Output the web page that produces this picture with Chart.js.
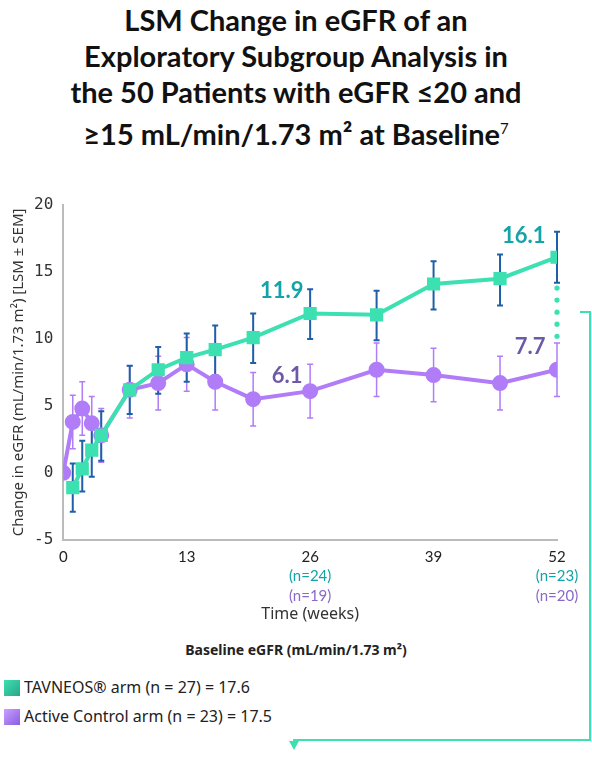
<!DOCTYPE html>
<html><head><meta charset="utf-8">
<script src="https://cdn.jsdelivr.net/npm/chart.js@4"></script>
<style>
body{margin:0;width:592px;height:761px;position:relative;background:#fff;font-family:"IBM Plex Sans","Noto Sans",sans-serif;overflow:hidden}
#title{position:absolute;top:2px;left:0;width:592px;text-align:center;font:bold 29px/36px "Lato","Noto Sans",sans-serif;color:#111}
#wrap{position:absolute;left:0;top:180px;width:592px;height:460px}
.lg{position:absolute;left:4px;font:16px "Noto Sans",sans-serif;color:#222}
.sw{display:inline-block;width:16px;height:16px;vertical-align:-3px;margin-right:4px}
</style></head><body>
<div id="title">LSM Change in eGFR of an<br>Exploratory Subgroup Analysis in<br>the 50 Patients with eGFR ≤20 and<br>≥15 mL/min/1.73 m² at Baseline<sup style="font-size:15px;font-weight:normal">7</sup></div>
<div id="wrap"><canvas id="c"></canvas></div>
<div style="position:absolute;top:640px;left:0;width:592px;text-align:center;font:bold 14px 'Noto Sans',sans-serif;color:#222;padding-left:0">Baseline eGFR (mL/min/1.73 m²)</div>
<div class="lg" style="top:676px"><span class="sw" style="background:linear-gradient(135deg,#3de0b0,#2aa58a)"></span>TAVNEOS® arm (n = 27) = 17.6</div>
<div class="lg" style="top:705px"><span class="sw" style="background:linear-gradient(135deg,#c9a0ff,#8a5ce0)"></span>Active Control arm (n = 23) = 17.5</div>
<div style="position:absolute;left:580px;top:311px;width:10px;height:2px;background:#3de0b0"></div>
<div style="position:absolute;left:589px;top:311px;width:2px;height:430px;background:#3de0b0"></div>
<div style="position:absolute;left:293px;top:739px;width:298px;height:2px;background:#3de0b0"></div>
<div style="position:absolute;left:289px;top:741px;width:0;height:0;border-left:5px solid transparent;border-right:5px solid transparent;border-top:9px solid #3de0b0"></div>
<script>
const tavWeeks=[1,2,3,4,7,10,13,16,20,26,33,39,46,52];
const tavLSM=[-1.1,0.3,1.7,2.8,6.2,7.7,8.6,9.2,10.1,11.9,11.8,14.1,14.5,16.1];
const tavLow=[-2.9,-1.4,-0.3,0.9,4.4,5.9,6.8,7.3,8.2,10.0,9.9,12.2,12.5,14.2];
const tavHigh=[0.7,2.4,3.7,4.6,8.0,9.4,10.4,11.0,11.9,13.7,13.6,15.8,16.3,18.0];
const ctlWeeks=[0,1,2,3,4,7,10,13,16,20,26,33,39,46,52];
const ctlLSM=[0,3.8,4.8,3.7,2.8,6.2,6.7,8.1,6.8,5.5,6.1,7.7,7.3,6.7,7.7];
const ctlLow=[null,1.8,2.8,1.7,0.8,4.1,4.7,6.1,4.7,3.5,4.1,5.7,5.3,4.7,5.7];
const ctlHigh=[null,5.8,6.8,5.7,4.8,8.0,8.7,10.1,8.8,7.5,8.1,9.7,9.3,8.7,9.7];
const xTicks=[0,13,26,39,52];
const yTicks=[-5,0,5,10,15,20];
const nLabels=[[26,'(n=24)','(n=19)'],[52,'(n=23)','(n=20)']];
const TEAL='#3de0b0',PURP='#b07cf7';
const plug={id:'extra',
 beforeDatasetsDraw(ch){const c=ch.ctx,x=ch.scales.x,y=ch.scales.y;
  function bars(w,lo,hi,col,wid){c.strokeStyle=col;c.lineWidth=wid;w.forEach((v,i)=>{if(lo[i]==null)return;const px=x.getPixelForValue(v),a=y.getPixelForValue(lo[i]),b=y.getPixelForValue(hi[i]);c.beginPath();c.moveTo(px,a);c.lineTo(px,b);c.moveTo(px-3,a);c.lineTo(px+3,a);c.moveTo(px-3,b);c.lineTo(px+3,b);c.stroke();});}
  c.save();bars(ctlWeeks,ctlLow,ctlHigh,PURP,1.5);bars(tavWeeks,tavLow,tavHigh,'#1f5fa8',2);
  c.fillStyle=TEAL;const px=x.getPixelForValue(52);for(let v=13.8;v>9.6;v-=0.9){c.beginPath();c.arc(px,y.getPixelForValue(v),2.6,0,7);c.fill();}
  c.restore();},
 afterDraw(ch){const c=ch.ctx,x=ch.scales.x,y=ch.scales.y;c.save();c.textAlign='right';c.textBaseline='bottom';c.font='bold 22px "Lato","Noto Sans",sans-serif';
  c.fillStyle='#14a3a8';c.fillText('11.9',x.getPixelForValue(25.3),y.getPixelForValue(12.8));c.fillText('16.1',x.getPixelForValue(50.8),y.getPixelForValue(16.9));
  c.fillStyle='#6e58a8';c.fillText('6.1',x.getPixelForValue(25.2),y.getPixelForValue(6.4));c.fillText('7.7',x.getPixelForValue(50.8),y.getPixelForValue(8.6));
  c.textAlign='center';c.textBaseline='top';c.font='15px "Lato","Noto Sans",sans-serif';
  nLabels.forEach(n=>{const px=x.getPixelForValue(n[0]);c.fillStyle='#14a3a8';c.fillText(n[1],px,ch.chartArea.bottom+29);c.fillStyle='#8a68c8';c.fillText(n[2],px,ch.chartArea.bottom+49);});
  c.restore();}};
new Chart(document.getElementById('c'),{type:'scatter',
 data:{datasets:[
  {label:'TAVNEOS',data:tavWeeks.map((w,i)=>({x:w,y:tavLSM[i]})),showLine:true,borderColor:TEAL,backgroundColor:TEAL,borderWidth:4,pointStyle:'rect',pointRadius:6.5,order:0},
  {label:'Control',data:ctlWeeks.map((w,i)=>({x:w,y:ctlLSM[i]})),showLine:true,borderColor:PURP,backgroundColor:PURP,borderWidth:4,pointStyle:'circle',pointRadius:6,order:1}]},
 options:{responsive:true,maintainAspectRatio:false,animation:false,
  layout:{padding:{left:6,right:35,top:25,bottom:12}},
  plugins:{legend:{display:false},tooltip:{enabled:false}},
  scales:{
   x:{type:'linear',min:0,max:52,afterBuildTicks(a){a.ticks=xTicks.map(v=>({value:v}));},
    grid:{display:false,drawTicks:true,tickLength:6,color:'#aaa'},border:{color:'#bbb',width:2},
    ticks:{color:'#222',font:{size:15,family:'"Lato","Noto Sans",sans-serif'},padding:2},
    title:{display:true,text:'Time (weeks)',color:'#333',font:{size:16,family:'"Noto Sans",sans-serif'},padding:{top:37}}},
   y:{min:-5,max:20,afterBuildTicks(a){a.ticks=yTicks.map(v=>({value:v}));},
    grid:{display:false,tickLength:6,color:'#aaa'},border:{color:'#bbb',width:2},
    ticks:{color:'#333',font:{size:16,family:'"DejaVu Sans Mono",monospace'},padding:4},
    title:{display:true,text:'Change in eGFR (mL/min/1.73 m²) [LSM ± SEM]',color:'#333',font:{size:15,family:'"Noto Sans",sans-serif'},padding:{bottom:2}}}}},
 plugins:[plug]});
</script></body></html>
